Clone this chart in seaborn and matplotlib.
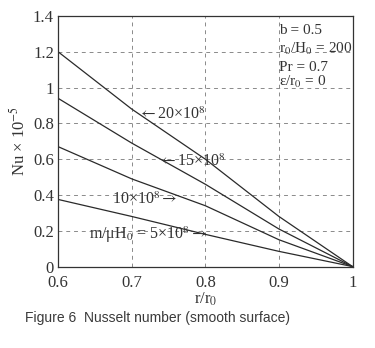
import matplotlib
matplotlib.use("Agg")
import matplotlib.pyplot as plt
import seaborn as sns

# values
r_ratio = [0.6, 0.7, 0.8, 0.9, 1.0]
nu_20e8 = [1.20, 0.88, 0.60, 0.28, 0.0]
nu_15e8 = [0.94, 0.69, 0.46, 0.21, 0.0]
nu_10e8 = [0.67, 0.49, 0.34, 0.15, 0.0]
nu_5e8 = [0.375, 0.28, 0.18, 0.085, 0.0]

x_ticks = [0.6, 0.7, 0.8, 0.9, 1.0]
x_ticklabels = ["0.6", "0.7", "0.8", "0.9", "1"]
y_ticks = [0, 0.2, 0.4, 0.6, 0.8, 1.0, 1.2, 1.4]
y_ticklabels = ["0", "0.2", "0.4", "0.6", "0.8", "1", "1.2", "1.4"]

params = ["b = 0.5", r"r$_0$/H$_0$ = 200", "Pr = 0.7", r"ε/r$_0$ = 0"]
params_y = [1.32, 1.215, 1.115, 1.03]

sns.set_style("white")
plt.rcParams["font.family"] = ["Liberation Serif", "DejaVu Serif"]
plt.rcParams["mathtext.fontset"] = "stix"

fig = plt.figure(figsize=(3.75, 3.48), dpi=100)
ax = fig.add_axes([0.155, 0.234, 0.785, 0.72])

for vals in [nu_20e8, nu_15e8, nu_10e8, nu_5e8]:
    sns.lineplot(x=r_ratio, y=vals, color="#2a2a2a", linewidth=0.9, ax=ax)

ax.set_xlim(0.6, 1.0)
ax.set_ylim(0, 1.4)
ax.set_xticks(x_ticks)
ax.set_xticklabels(x_ticklabels)
ax.set_yticks(y_ticks)
ax.set_yticklabels(y_ticklabels)
ax.tick_params(direction="in", length=3, labelsize=12, color="#333333",
               labelcolor="#333333")
ax.tick_params(axis="x", pad=6)
ax.tick_params(axis="y", pad=3)
ax.grid(True, linestyle=(0, (4, 4)), color="#8a8a8a", linewidth=0.7)
for sp in ax.spines.values():
    sp.set_color("#333333")
    sp.set_linewidth(0.9)

ax.set_xlabel(r"r/r$_0$", fontsize=12, color="#333333", labelpad=0)
ax.set_ylabel(r"Nu × 10$^{-5}$", fontsize=12, color="#333333", labelpad=3)

txt = dict(fontsize=11.5, color="#333333", va="center")
ax.text(0.708, 0.85, r"$\leftarrow$20×10$^8$", ha="left", **txt)
ax.text(0.736, 0.585, r"$\leftarrow$15×10$^8$", ha="left", **txt)
ax.text(0.762, 0.375, r"10×10$^8$$\rightarrow$", ha="right", **txt)
ax.text(0.803, 0.178, r"m/μH$_0$ = 5×10$^8$$\rightarrow$", ha="right", **txt)

for s, yv in zip(params, params_y):
    ax.text(0.9, yv, s, ha="left", fontsize=11, color="#333333", va="center")

fig.text(0.067, 0.076, "Figure 6  Nusselt number (smooth surface)",
         family="Liberation Sans", fontsize=10, color="#3a3a3a")

fig.savefig("out.png", dpi=100)
